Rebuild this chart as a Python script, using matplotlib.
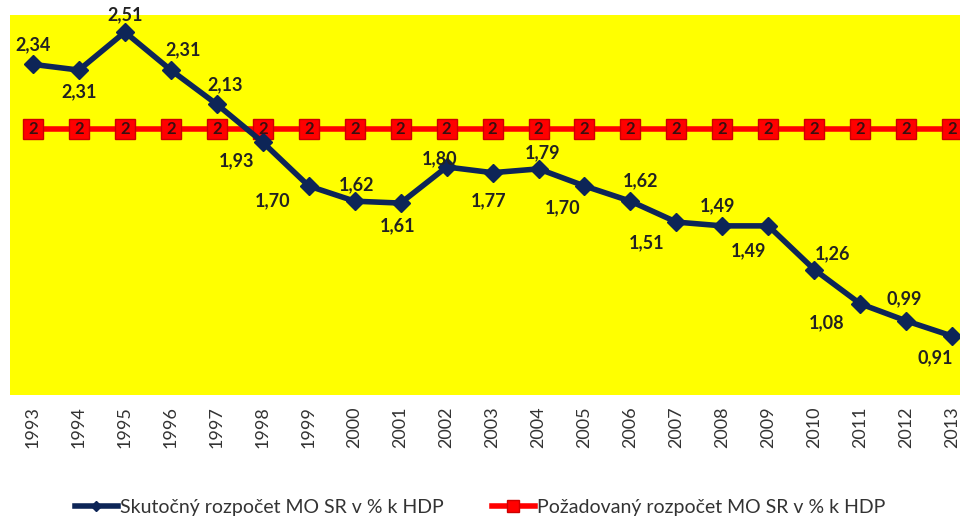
import numpy as np
import matplotlib.pyplot as plt

plt.rcParams['font.family'] = ['Lato', 'DejaVu Sans']

roky = ['1993', '1994', '1995', '1996', '1997', '1998', '1999', '2000', '2001', '2002', '2003',
        '2004', '2005', '2006', '2007', '2008', '2009', '2010', '2011', '2012', '2013']
skutocny = [2.34, 2.31, 2.51, 2.31, 2.13, 1.93, 1.70, 1.62, 1.61, 1.80, 1.77,
            1.79, 1.70, 1.62, 1.51, 1.49, 1.49, 1.26, 1.08, 0.99, 0.91]
pozadovany = [2] * len(roky)

# posun popiskov (v pixeloch) - nad/pod bodom
posun = [(0, 20), (0, -22), (0, 17), (12, 20), (8, 20), (-26, -18), (-36, -15), (2, 16),
         (-3, -23), (-7, 8), (-4, -28), (4, 16), (-22, -22), (10, 20), (-30, -21),
         (-5, 20), (-20, -25), (18, 16), (-34, -19), (-2, 22), (-17, -22)]

fig = plt.figure(figsize=(9.6, 5.2), dpi=100)
ax = fig.add_axes([0.0104, 0.2404, 0.9896, 0.7308])
ax.set_facecolor('#ffff00')

x = np.arange(len(roky))
ax.plot(x, pozadovany, color='#ff0000', lw=4, marker='s', ms=15, mfc='#ff0000', mec='#cc0000',
        label='Požadovaný rozpočet MO SR v % k HDP', zorder=2)
ax.plot(x, skutocny, color='#0d2557', lw=4, marker='D', ms=9, mfc='#0d2557', mec='#0d2557',
        label='Skutočný rozpočet MO SR v % k HDP', zorder=3)

for i in range(len(roky)):
    ax.text(x[i], pozadovany[i], '2', ha='center', va='center', fontsize=12,
            fontweight='bold', color='#3a1010', zorder=4)
    ax.annotate(('%.2f' % skutocny[i]).replace('.', ','), (x[i], skutocny[i]),
                xytext=posun[i], textcoords='offset pixels', ha='center', va='center',
                fontsize=13, fontweight='bold', color='#222222', zorder=5)

ax.set_xlim(-0.5, 20.17)
ax.set_ylim(0.6, 2.6)
ax.set_xticks(x)
ax.set_xticklabels(roky, rotation=90, fontsize=13, color='#333333')
ax.set_yticks([])
ax.tick_params(axis='x', length=0, pad=8)
for s in ax.spines.values():
    s.set_visible(False)

h, l = ax.get_legend_handles_labels()
fig.legend(h[::-1], l[::-1], loc='lower center', ncol=2, frameon=False, fontsize=14,
           bbox_to_anchor=(0.5, -0.025), handlelength=2.2, handletextpad=0.1, columnspacing=2.5,
           labelcolor='#333333', markerscale=0.6)

fig.savefig('out.png', dpi=100)
